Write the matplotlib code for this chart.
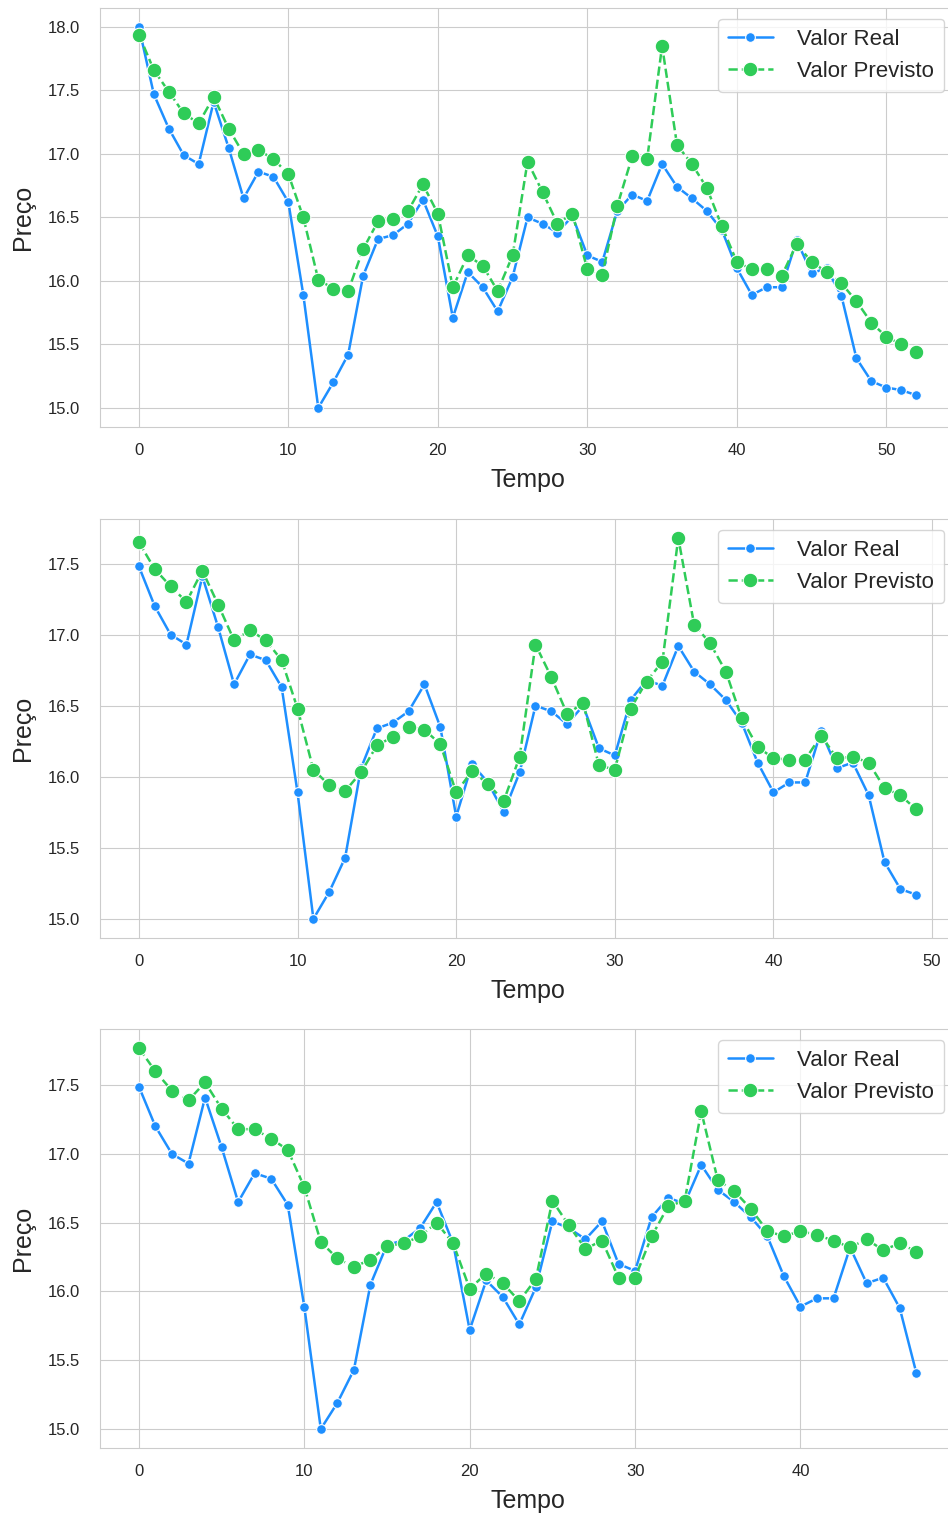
import matplotlib
matplotlib.use('Agg')
import matplotlib.pyplot as plt
import seaborn as sns

# Valores (tres janelas de previsao)
tempo_1 = list(range(53))
real_1 = [18.00, 17.47, 17.20, 16.99, 16.92, 17.41, 17.05, 16.65, 16.86, 16.82,
          16.62, 15.89, 15.00, 15.20, 15.42, 16.04, 16.33, 16.36, 16.45, 16.64,
          16.35, 15.71, 16.07, 15.95, 15.76, 16.03, 16.50, 16.45, 16.38, 16.51,
          16.20, 16.15, 16.55, 16.68, 16.63, 16.92, 16.74, 16.65, 16.55, 16.40,
          16.10, 15.89, 15.95, 15.95, 16.32, 16.06, 16.10, 15.88, 15.39, 15.21,
          15.16, 15.14, 15.10]
prev_1 = [17.94, 17.66, 17.49, 17.32, 17.24, 17.45, 17.20, 17.00, 17.03, 16.96,
          16.84, 16.50, 16.01, 15.94, 15.92, 16.25, 16.47, 16.49, 16.55, 16.76,
          16.53, 15.95, 16.20, 16.12, 15.92, 16.20, 16.94, 16.70, 16.45, 16.53,
          16.09, 16.05, 16.59, 16.98, 16.96, 17.85, 17.07, 16.92, 16.73, 16.43,
          16.15, 16.09, 16.09, 16.04, 16.29, 16.15, 16.07, 15.98, 15.84, 15.67,
          15.56, 15.50, 15.44]

tempo_2 = list(range(50))
real_2 = [17.48, 17.20, 17.00, 16.93, 17.41, 17.05, 16.65, 16.86, 16.82, 16.63,
          15.89, 15.00, 15.19, 15.43, 16.06, 16.34, 16.38, 16.46, 16.65, 16.35,
          15.72, 16.09, 15.96, 15.75, 16.03, 16.50, 16.46, 16.37, 16.50, 16.20,
          16.15, 16.54, 16.68, 16.64, 16.92, 16.74, 16.65, 16.54, 16.38, 16.10,
          15.89, 15.96, 15.96, 16.32, 16.06, 16.10, 15.87, 15.40, 15.21, 15.17]
prev_2 = [17.65, 17.46, 17.34, 17.23, 17.45, 17.21, 16.96, 17.03, 16.96, 16.82,
          16.48, 16.05, 15.94, 15.90, 16.03, 16.22, 16.28, 16.35, 16.33, 16.23,
          15.89, 16.04, 15.95, 15.83, 16.14, 16.93, 16.70, 16.44, 16.52, 16.08,
          16.05, 16.48, 16.67, 16.81, 17.68, 17.07, 16.94, 16.74, 16.41, 16.21,
          16.13, 16.12, 16.12, 16.29, 16.13, 16.14, 16.10, 15.92, 15.87, 15.77]

tempo_3 = list(range(48))
real_3 = [17.49, 17.20, 17.00, 16.93, 17.41, 17.05, 16.65, 16.86, 16.82, 16.63,
          15.89, 15.00, 15.19, 15.43, 16.05, 16.34, 16.37, 16.46, 16.65, 16.35,
          15.72, 16.08, 15.96, 15.76, 16.03, 16.51, 16.46, 16.38, 16.51, 16.20,
          16.15, 16.54, 16.68, 16.64, 16.92, 16.74, 16.65, 16.54, 16.40, 16.11,
          15.89, 15.95, 15.95, 16.32, 16.06, 16.10, 15.88, 15.41]
prev_3 = [17.77, 17.60, 17.46, 17.39, 17.52, 17.33, 17.18, 17.18, 17.11, 17.03,
          16.76, 16.36, 16.24, 16.18, 16.23, 16.33, 16.35, 16.40, 16.50, 16.35,
          16.02, 16.13, 16.06, 15.93, 16.09, 16.66, 16.48, 16.31, 16.37, 16.10,
          16.10, 16.40, 16.62, 16.66, 17.31, 16.81, 16.73, 16.60, 16.44, 16.40,
          16.44, 16.41, 16.37, 16.32, 16.38, 16.30, 16.35, 16.29]

paineis = [(tempo_1, real_1, prev_1), (tempo_2, real_2, prev_2), (tempo_3, real_3, prev_3)]

sns.set_style('whitegrid')
plt.rcParams['font.family'] = ['Liberation Sans', 'DejaVu Sans']

cor_real = '#1e8fff'
cor_prev = '#2fcc58'

fig = plt.figure(figsize=(9.48, 15.15), dpi=100)

# posicoes dos eixos (o lado direito passa um pouco da borda, como no original)
bottoms = [0.7182, 0.3809, 0.0442]
for (tempo, real, prev), b in zip(paineis, bottoms):
    ax = fig.add_axes([0.1055, b, 0.902, 0.2766])
    ax.plot(tempo, real, color=cor_real, linestyle='-', linewidth=1.8, marker='o',
            markersize=7, markeredgecolor='white', markeredgewidth=0.8, label='Valor Real')
    ax.plot(tempo, prev, color=cor_prev, linestyle='--', linewidth=1.8, marker='o',
            markersize=10.5, markeredgecolor='white', markeredgewidth=0.8, label='Valor Previsto')
    ax.set_xlabel('Tempo', fontsize=18, color='#262626', labelpad=7)
    ax.set_ylabel('Preço', fontsize=18, color='#262626', labelpad=9)
    ax.tick_params(axis='x', labelsize=12, colors='#262626', pad=8)
    ax.tick_params(axis='y', labelsize=12, colors='#262626', pad=11)
    for s in ax.spines.values():
        s.set_color('#cccccc')
    ax.legend(loc='upper right', fontsize=16, frameon=True, handlelength=2.0,
              borderpad=0.45, labelspacing=0.5, handletextpad=1.1)

fig.savefig('out.png', dpi=100)
